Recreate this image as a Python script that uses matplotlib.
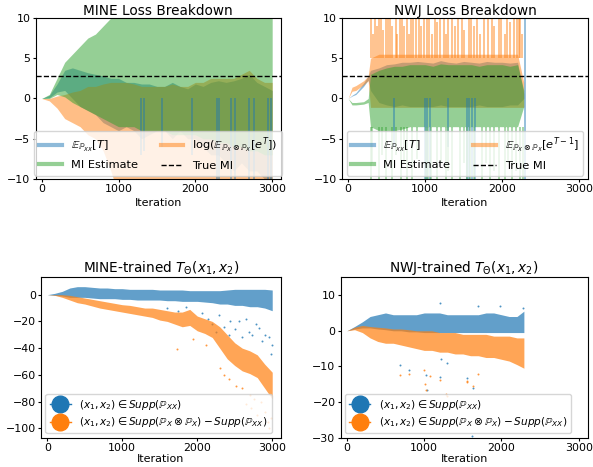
import matplotlib
matplotlib.use("Agg")
import matplotlib.pyplot as plt
from matplotlib.lines import Line2D

# ---- data (envelopes of the noisy traces) ----
true_mi = 2.77

it = [0, 100, 200, 300, 400, 500, 600, 700, 800, 900, 1000, 1100, 1200, 1300, 1400, 1500,
      1600, 1700, 1800, 1900, 2000, 2100, 2200, 2300, 2400, 2500, 2600, 2700, 2800, 2900, 3000]

# MINE loss breakdown
mine_t_lo = [0, 0.1, 0.8, 1.0, 0, -1, -1.5, -2, -3, -3.5, -4, -3.5, -4, -5, -4.5, -4,
             -4, -5, -4, -5, -5, -6, -7, -7, -8, -9, -8, -9, -9, -10, -10]
mine_t_hi = [0, 0.4, 1.8, 3.5, 3.8, 3.5, 3.2, 3.0, 2.8, 2.5, 2.5, 2.0, 2.0, 1.8, 1.8, 1.5,
             1.5, 2.0, 1.5, 1.2, 1.8, 1.5, 2.0, 2.2, 2.0, 2.2, 2.5, 3.0, 2.0, 1.5, 1.0]
mine_l_lo = [0, -0.3, -1.2, -2.5, -3, -3.5, -4.5, -5, -6.5, -9, -12, -12, -12, -12, -12, -12,
             -12, -12, -12, -12, -12, -12, -12, -12, -12, -12, -12, -12, -12, -12, -12]
mine_l_hi = [0, 0, 0.3, 0.5, 0.8, 1.0, 1.5, 1.5, 1.8, 2.0, 2.0, 2.0, 1.8, 1.5, 1.5, 1.5,
             1.5, 1.8, 1.5, 1.5, 2.0, 2.0, 2.5, 2.5, 2.5, 2.5, 3.0, 3.5, 2.5, 2.0, 2.0]
mine_mi_lo = [0, 0, 0.5, 0.2, -0.5, -1, -1.5, -2, -2.5, -3, -3.5, -3.5, -3.5, -4, -4, -4,
              -4, -4.5, -4.5, -4.5, -4.5, -5, -5, -5.5, -5.5, -6, -6, -6.5, -6.5, -7, -7]
mine_mi_hi = [0, 0.5, 2.5, 4.5, 5.5, 6.5, 7.5, 8, 9, 10, 12, 12, 12, 12, 12, 12,
              12, 12, 12, 12, 12, 12, 12, 12, 12, 12, 12, 12, 12, 12, 12]
mine_t_spike_it = [1290, 1330, 1560, 1950, 2280, 2310, 2460, 2520, 2700, 2760, 2950, 2990]
mine_t_spike_bot = [-7, -6.5, -6, -7, -10, -12, -10, -12, -12, -10, -12, -12]

# NWJ loss breakdown
nwj_it = [0, 50, 100, 200, 260, 290, 400, 500, 600, 700, 800, 900, 1000, 1100, 1200, 1300,
          1400, 1500, 1600, 1700, 1800, 1900, 2000, 2100, 2200, 2280]
nwj_t_lo = [0, 0.3, 0.5, 1.5, 2.3, 1.0, -0.5, -0.8, -1, -0.8, -1, -1, -1, -1, -0.8, -1,
            -1, -1, -1, -0.8, -1, -1, -1, -0.8, -0.8, 0]
nwj_t_hi = [0, 0.4, 0.7, 1.9, 2.8, 3.5, 3.8, 4.2, 4.3, 4.5, 4.5, 4.6, 4.5, 4.4, 4.7, 4.5,
            4.4, 4.6, 4.5, 4.4, 4.6, 4.5, 4.5, 4.4, 4.5, 0.6]
nwj_e_lo = [0, 0.9, 1.0, 1.7, 2.2, -1.1, -1.1, -1.1, -1.1, -1.1, -1.1, -1.1, -1.1, -1.1, -1.1, -1.1,
            -1.1, -1.1, -1.1, -1.1, -1.1, -1.1, -1.1, -1.1, -1.1, -1.1]
nwj_e_hi = [0, 1.4, 1.6, 2.2, 2.8, 5.0, 5.5, 5.5, 5.5, 5.5, 5.5, 5.5, 5.5, 5.5, 5.5, 5.5,
            5.5, 5.5, 5.5, 5.5, 5.5, 5.5, 5.5, 5.5, 5.5, 2.0]
nwj_mi_lo = [0, -0.8, -0.8, -0.7, -0.5, -3.5, -4, -4, -4, -3.8, -3.5, -3.5, -3.5, -3.5, -3.5, -3.5,
             -3.5, -3.5, -3.5, -3.5, -3.5, -3.5, -3.5, -3.5, -3.5, -1]
nwj_mi_hi = [0, -0.5, -0.5, -0.4, 0, 3.0, 3.5, 3.8, 4, 4, 4.2, 4.2, 4.2, 4, 4.3, 4.2,
             4.2, 4.2, 4.2, 4, 4.2, 4.2, 4.2, 4, 4.2, 1]
# iterations where a trace shoots out of the band (and how far)
nwj_e_spike_it = [300, 318, 345, 372, 401, 430, 455, 488, 512, 540, 575, 617, 640, 668, 704,
                  730, 760, 790, 811, 845, 880, 918, 950, 985, 1020, 1048, 1090, 1134, 1160,
                  1190, 1242, 1270, 1300, 1350, 1385, 1420, 1480, 1510, 1565, 1600, 1640,
                  1674, 1715, 1760, 1810, 1868, 1900, 1953, 1990, 2030, 2062, 2100, 2148,
                  2190, 2215, 2234, 2260]
nwj_e_spike_top = [11, 8, 12, 9, 12, 12, 8.5, 12, 10, 12, 9, 12, 8, 12, 12,
                   9, 12, 8, 12, 10, 12, 12, 9, 12, 12, 12, 8, 12, 9.5,
                   12, 12, 8, 12, 12, 9, 12, 12, 8.5, 12, 12, 9,
                   12, 8, 12, 12, 12, 9, 12, 12, 8, 12, 9.5, 12,
                   12, 12, 12, 8]
nwj_mi_spike_it = [300, 315, 400, 440, 488, 574, 620, 682, 720, 760, 833, 900, 1005, 1040,
                   1070, 1157, 1200, 1264, 1300, 1350, 1450, 1500, 1544, 1580, 1630, 1738,
                   1790, 1846, 1900, 1953, 2040, 2080, 2127, 2180, 2234, 2270]
nwj_mi_spike_bot = [-12, -8, -12, -7, -12, -12, -7, -12, -8, -12, -12, -7.5, -12, -12,
                    -12, -12, -8, -12, -9, -12, -12, -8, -12, -12, -12, -12,
                    -8, -12, -9, -12, -12, -8, -12, -9, -12, -12]
nwj_t_spike_it = [600, 1000, 1030, 1065, 1300, 1540, 1575, 1610, 1645, 2290]
nwj_t_spike_bot = [-6, -12, -12, -12, -6, -12, -12, -12, -12, -12]
nwj_t_spike_top = [0, 0, 0, 0, 0, 0, 0, 0, 0, 12]

# trained critic T(x1, x2) scatter, core band + isolated points
mine_pos_lo = [0, -0.5, -1, -2, -2, -2, -2.5, -3, -3, -3, -3.5, -3.5, -4, -4, -4, -4,
               -4.5, -4.5, -5, -5, -5, -5.5, -6, -7, -7, -8, -8, -9, -9, -10, -12]
mine_pos_hi = [0, 1, 2.5, 5, 6, 6, 5.5, 5, 5, 4.5, 4.5, 4, 4, 4, 4, 3.5,
               3.5, 3.5, 3.5, 3, 3, 3, 3, 3, 3.5, 4, 4, 4, 4, 4, 3.5]
mine_neg_lo = [0, -0.5, -2, -4, -6, -7, -8.5, -10, -11, -12, -13, -14, -15, -16, -17, -19,
               -20, -22, -24, -23, -27, -29, -32, -40, -48, -53, -57, -59, -62, -70, -78]
mine_neg_hi = [0, 0, 0, -0.5, -1.5, -2.5, -3.5, -4.5, -5.5, -6.5, -7.5, -8, -9, -10, -10, -11,
               -12, -13, -13, -11, -16, -18, -20, -24, -30, -36, -40, -42, -45, -52, -58]
mine_pos_out_it = [1600, 1750, 1850, 2062, 2150, 2196, 2250, 2286, 2352, 2420, 2441, 2500,
                   2553, 2597, 2650, 2687, 2732, 2780, 2821, 2870, 2910, 2955, 2980, 3000]
mine_pos_out_v = [-10, -12, -9, -14, -18, -22, -28, -15, -24, -30, -20, -26,
                  -20, -32, -18, -28, -30, -22, -25, -35, -30, -32, -44, -38]
mine_neg_out_it = [1728, 1950, 2120, 2300, 2360, 2420, 2520, 2600, 2650, 2700, 2720, 2760,
                   2800, 2850, 2900, 2940, 2960, 2990]
mine_neg_out_v = [-41, -33, -38, -55, -60, -63, -68, -70, -82, -75, -85, -78,
                  -90, -80, -88, -95, -100, -92]

nwj_s_it = [0, 100, 200, 300, 400, 500, 600, 700, 800, 900, 1000, 1100, 1200, 1300, 1400, 1500,
            1600, 1700, 1800, 1900, 2000, 2100, 2200, 2290]
nwj_pos_lo = [0, 0.5, 0.8, 0.8, 0.5, 0.3, 0, 0, -0.3, -0.3, -0.5, -0.5, -0.5, -0.5, -0.5, -0.5,
              -0.5, -0.5, -0.5, -0.5, -0.5, -0.5, -0.5, -0.5]
nwj_pos_hi = [0, 1.2, 2.5, 4, 4.5, 5, 4.5, 4.5, 4.5, 4.5, 5, 5, 5, 4.5, 4.5, 4.5,
              4.5, 4.5, 5, 5, 4.5, 4, 4, 5.5]
nwj_neg_lo = [0, 0.3, -0.5, -2, -3, -3.5, -3.5, -4, -4.5, -5, -5.5, -5.5, -6, -6, -6.5, -6.5,
              -7, -7, -7.5, -7.5, -8, -8.5, -9.5, -10.5]
nwj_neg_hi = [0, 1.0, 1.5, 1.2, 1.0, 0.8, 0.5, 0.5, 0.3, 0, 0, 0, -0.5, -0.5, -0.5, -1,
              -1, -1, -1, -1.5, -1.5, -1.5, -2, -2]
nwj_pos_out_it = [690, 800, 1030, 1035, 1200, 1220, 1290, 1550, 1618, 1630, 1200, 1700, 1980, 2280]
nwj_pos_out_v = [-9.5, -11, -12.4, -16.5, -12.9, -8, -9, -13.3, -29.5, -16, 7.8, 7, 7, 6.5]
nwj_neg_out_it = [690, 800, 1013, 1026, 1078, 1207, 1284, 1290, 1552, 1560, 1638, 1000, 1700]
nwj_neg_out_v = [-12.5, -12, -15, -16.5, -12.8, -13.8, -17.6, -18.2, -14, -14.5, -15.5, -11, -12]

C0, C1, C2 = "#1f77b4", "#ff7f0e", "#2ca02c"
plt.rcParams["font.size"] = 8
plt.rcParams["mathtext.fontset"] = "dejavusans"
plt.rcParams["xtick.major.size"] = 2.5
plt.rcParams["ytick.major.size"] = 2.5
plt.rcParams["xtick.major.pad"] = 1.2
plt.rcParams["ytick.major.pad"] = 1.2

fig = plt.figure(figsize=(5.93, 4.67), dpi=100)
ax1 = fig.add_axes([0.0599, 0.6167, 0.414, 0.3448])
ax2 = fig.add_axes([0.5767, 0.6167, 0.415, 0.3448])
ax3 = fig.add_axes([0.0696, 0.0627, 0.404, 0.3435])
ax4 = fig.add_axes([0.5745, 0.0627, 0.4165, 0.3435])

# top row: loss breakdowns
ax1.fill_between(it, mine_t_lo, mine_t_hi, color=C0, alpha=0.5, lw=0)
ax1.vlines(mine_t_spike_it, mine_t_spike_bot, 0, color=C0, alpha=0.5, lw=1.3)
ax1.fill_between(it, mine_l_lo, mine_l_hi, color=C1, alpha=0.5, lw=0)
ax1.fill_between(it, mine_mi_lo, mine_mi_hi, color=C2, alpha=0.5, lw=0)
ax1.axhline(true_mi, color="k", ls="--", lw=1)
h_top = [Line2D([], [], color=C0, alpha=0.5, lw=3),
         Line2D([], [], color=C2, alpha=0.5, lw=3),
         Line2D([], [], color=C1, alpha=0.5, lw=3),
         Line2D([], [], color="k", ls="--", lw=1)]
ax1.legend(h_top, [r"$\mathbb{E}_{\mathbb{P}_{XX}}[T]$", "MI Estimate",
                   r"$\log(\mathbb{E}_{\mathbb{P}_X \otimes \mathbb{P}_X}[e^T])$", "True MI"],
           ncol=2, loc="lower center", fontsize=8.2, borderaxespad=0.3)
ax1.set_title("MINE Loss Breakdown", fontsize=9.8, pad=1.5)

ax2.fill_between(nwj_it, nwj_t_lo, nwj_t_hi, color=C0, alpha=0.5, lw=0)
ax2.vlines(nwj_t_spike_it, nwj_t_spike_bot, nwj_t_spike_top, color=C0, alpha=0.5, lw=1.3)
ax2.fill_between(nwj_it, nwj_e_lo, nwj_e_hi, color=C1, alpha=0.5, lw=0)
ax2.vlines(nwj_e_spike_it, 5, nwj_e_spike_top, color=C1, alpha=0.5, lw=1.3)
ax2.fill_between(nwj_it, nwj_mi_lo, nwj_mi_hi, color=C2, alpha=0.5, lw=0)
ax2.vlines(nwj_mi_spike_it, nwj_mi_spike_bot, -3.5, color=C2, alpha=0.45, lw=1.3)
ax2.axhline(true_mi, color="k", ls="--", lw=1)
ax2.legend(h_top, [r"$\mathbb{E}_{\mathbb{P}_{XX}}[T]$", "MI Estimate",
                   r"$\mathbb{E}_{\mathbb{P}_X \otimes \mathbb{P}_X}[e^{T-1}]$", "True MI"],
           ncol=2, loc="lower center", fontsize=8.2, borderaxespad=0.3)
ax2.set_title("NWJ Loss Breakdown", fontsize=9.8, pad=1.5)

for ax in (ax1, ax2):
    ax.set_ylim(-10, 10)
    ax.set_yticks([-10, -5, 0, 5, 10])

# bottom row: critic values on joint / product-of-marginals samples
ax3.fill_between(it, mine_pos_lo, mine_pos_hi, color=C0, alpha=0.7, lw=0)
ax3.scatter(mine_pos_out_it, mine_pos_out_v, s=2, color=C0, alpha=0.8, lw=0)
ax3.fill_between(it, mine_neg_lo, mine_neg_hi, color=C1, alpha=0.7, lw=0)
ax3.scatter(mine_neg_out_it, mine_neg_out_v, s=2, color=C1, alpha=0.8, lw=0)
ax3.set_ylim(-107, 13)
ax3.set_title(r"MINE-trained $T_\Theta(x_1, x_2)$", fontsize=9.8, pad=1.5)

ax4.fill_between(nwj_s_it, nwj_pos_lo, nwj_pos_hi, color=C0, alpha=0.7, lw=0)
ax4.scatter(nwj_pos_out_it, nwj_pos_out_v, s=2, color=C0, alpha=0.8, lw=0)
ax4.fill_between(nwj_s_it, nwj_neg_lo, nwj_neg_hi, color=C1, alpha=0.7, lw=0)
ax4.scatter(nwj_neg_out_it, nwj_neg_out_v, s=2, color=C1, alpha=0.8, lw=0)
ax4.set_ylim(-30, 15)
ax4.set_yticks([-30, -20, -10, 0, 10])
ax4.set_title(r"NWJ-trained $T_\Theta(x_1, x_2)$", fontsize=9.8, pad=1.5)

h_bot = [Line2D([], [], color=C0, marker="o", markersize=12, lw=1),
         Line2D([], [], color=C1, marker="o", markersize=12, lw=1)]
lab_bot = [r"$(x_1, x_2) \in Supp(\mathbb{P}_{XX})$",
           r"$(x_1, x_2) \in Supp(\mathbb{P}_X \otimes \mathbb{P}_X) - Supp(\mathbb{P}_{XX})$"]
for ax in (ax3, ax4):
    ax.legend(h_bot, lab_bot, loc="lower left", fontsize=7.6, labelspacing=0.3,
              borderaxespad=0.4)

for ax in (ax1, ax2, ax3, ax4):
    ax.set_xlim(-80, 3115)
    ax.set_xticks([0, 1000, 2000, 3000])
    ax.tick_params(labelsize=7.9)
for ax in (ax1, ax2):
    ax.set_xlabel("Iteration", labelpad=2.5)
for ax in (ax3, ax4):
    ax.set_xlabel("Iteration", labelpad=0.5)

fig.savefig("out.png", dpi=100)
